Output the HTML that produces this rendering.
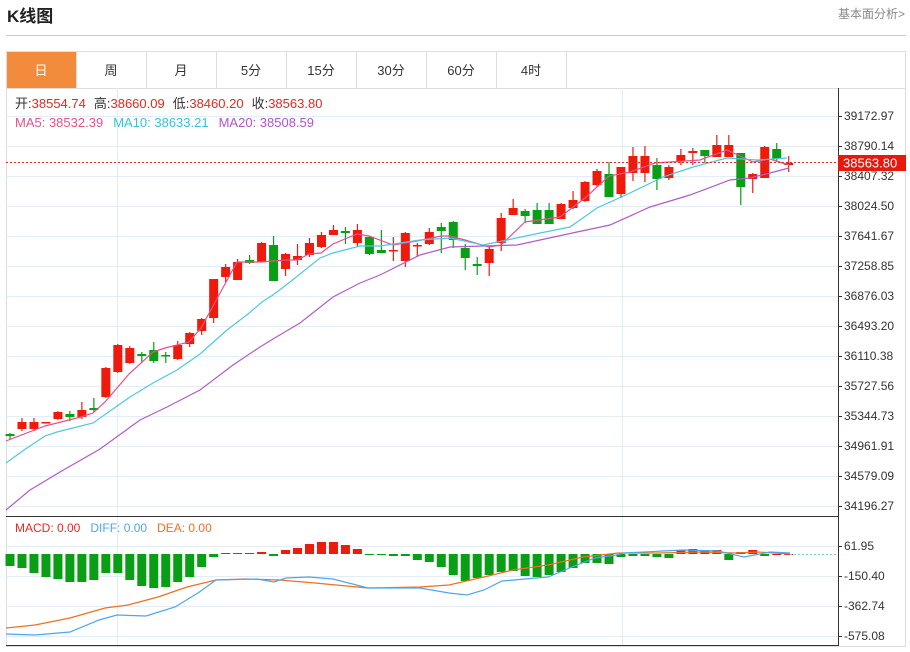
<!DOCTYPE html>
<html><head><meta charset="utf-8"><style>
body{margin:0;background:#fff;width:910px;height:647px;overflow:hidden;font-family:"Liberation Sans","Noto Sans CJK SC",sans-serif;}
</style></head><body>
<svg id="s" width="910" height="647" xmlns="http://www.w3.org/2000/svg" font-family="Liberation Sans, Noto Sans CJK SC, sans-serif">
<text x="7" y="22" font-size="17" font-weight="bold" fill="#222">K线图</text>
<text x="905" y="18" font-size="12" fill="#888" text-anchor="end">基本面分析&gt;</text>
<line x1="6" y1="35.5" x2="906" y2="35.5" stroke="#ccc"/>
<rect x="6.5" y="51.5" width="899" height="595" fill="none" stroke="#ddd"/>
<line x1="6" y1="88.5" x2="906" y2="88.5" stroke="#ddd"/>
<rect x="7" y="52" width="69" height="36" fill="#f28c3c"/>
<g font-size="13" text-anchor="middle" fill="#333">
<text x="41" y="75" fill="#fff">日</text><text x="111" y="75">周</text><text x="181" y="75">月</text><text x="251" y="75">5分</text><text x="321" y="75">15分</text><text x="391" y="75">30分</text><text x="461" y="75">60分</text><text x="531" y="75">4时</text>
</g>
<g stroke="#ddd"><line x1="76.5" y1="52" x2="76.5" y2="88"/><line x1="146.5" y1="52" x2="146.5" y2="88"/><line x1="216.5" y1="52" x2="216.5" y2="88"/><line x1="286.5" y1="52" x2="286.5" y2="88"/><line x1="356.5" y1="52" x2="356.5" y2="88"/><line x1="426.5" y1="52" x2="426.5" y2="88"/><line x1="496.5" y1="52" x2="496.5" y2="88"/><line x1="566.5" y1="52" x2="566.5" y2="88"/></g>
<g id="grid" stroke="#e3edf5"></g>
<g id="c"></g>
<line x1="838.5" y1="88" x2="838.5" y2="646" stroke="#333"/>
<line x1="6" y1="516.5" x2="838" y2="516.5" stroke="#333"/>
<line x1="6" y1="645.5" x2="838" y2="645.5" stroke="#333"/>
<g font-size="13">
<text x="15" y="108"><tspan fill="#333">开:</tspan><tspan fill="#e8281e">38554.74</tspan><tspan fill="#333" dx="8">高:</tspan><tspan fill="#e8281e">38660.09</tspan><tspan fill="#333" dx="8">低:</tspan><tspan fill="#e8281e">38460.20</tspan><tspan fill="#333" dx="8">收:</tspan><tspan fill="#e8281e">38563.80</tspan></text>
<text x="15" y="127"><tspan fill="#e8508a">MA5: 38532.39</tspan><tspan fill="#33c3dd" dx="10">MA10: 38633.21</tspan><tspan fill="#b055c8" dx="10">MA20: 38508.59</tspan></text>
<text x="15" y="532" font-size="12"><tspan fill="#e8281e">MACD: 0.00</tspan><tspan fill="#4da6f0" dx="10">DIFF: 0.00</tspan><tspan fill="#f07020" dx="10">DEA: 0.00</tspan></text>
</g>
<g id="ax" font-size="12" fill="#333"></g>
<line x1="6" y1="162.5" x2="838" y2="162.5" stroke="#e8281e" stroke-dasharray="2,2"/>
<rect x="838" y="155" width="68" height="16" fill="#e8180c"/>
<text x="843" y="167.5" font-size="13" fill="#fff">38563.80</text>
</svg>
<script>
var NS="http://www.w3.org/2000/svg",s=document.getElementById('c'),g=document.getElementById('grid'),ax=document.getElementById('ax');
function el(p,t,a){var e=document.createElementNS(NS,t);for(var k in a)e.setAttribute(k,a[k]);p.appendChild(e);return e;}
var lab=["39172.97","38790.14","38407.32","38024.50","37641.67","37258.85","36876.03","36493.20","36110.38","35727.56","35344.73","34961.91","34579.09","34196.27"];
lab.forEach(function(l,i){var y=116+i*30;el(g,'line',{x1:6,y1:y+.5,x2:838,y2:y+.5});el(ax,'line',{x1:838,y1:y+.5,x2:842,y2:y+.5,stroke:'#333'});var t=el(ax,'text',{x:844,y:y+4});t.textContent=l;});
[["61.95",546],["-150.40",576],["-362.74",606],["-575.08",636]].forEach(function(a){el(g,'line',{x1:6,y1:a[1]+.5,x2:838,y2:a[1]+.5});el(ax,'line',{x1:838,y1:a[1]+.5,x2:842,y2:a[1]+.5,stroke:'#333'});var t=el(ax,'text',{x:844,y:a[1]+4});t.textContent=a[0];});
[117.5,622.5].forEach(function(x){el(g,'line',{x1:x,y1:88,x2:x,y2:646});});
var K=[[434,436,433,439,'g'],[422,429,418,431,'r'],[422,429,418,431,'r'],[422,423,422,423,'r'],[412,419,411,420,'r'],[414,417,411,421,'g'],[410,417,402,419,'r'],[408,410,398,412,'g'],[368,397,367,398,'r'],[345,372,344,373,'r'],[348,363,346,364,'r'],[354,356,352,363,'g'],[350,361,342,363,'g'],[355,356,352,363,'g'],[345,359,341,360,'r'],[333,344,332,347,'r'],[319,331,318,335,'r'],[279,318,279,323,'r'],[267,277,264,282,'r'],[262,280,259,280,'r'],[260,263,255,264,'g'],[243,262,242,262,'r'],[245,281,236,281,'g'],[254,269,253,276,'r'],[256,260,244,265,'r'],[243,255,238,257,'r'],[235,247,232,248,'r'],[230,235,225,235,'r'],[231,233,227,244,'g'],[230,243,224,247,'r'],[237,254,236,255,'g'],[250,253,230,253,'g'],[250,251,237,261,'r'],[233,261,232,267,'r'],[245,246,243,257,'r'],[232,244,228,245,'r'],[227,231,223,253,'g'],[222,240,221,248,'g'],[248,258,244,270,'g'],[264,266,257,275,'g'],[249,263,246,276,'r'],[218,243,213,251,'r'],[208,215,199,215,'r'],[211,216,209,223,'g'],[210,224,203,224,'g'],[210,224,203,224,'g'],[204,219,203,219,'r'],[200,208,191,209,'r'],[182,201,181,202,'r'],[171,185,169,187,'r'],[174,197,162,197,'g'],[167,194,167,198,'r'],[156,173,147,181,'r'],[156,173,146,182,'r'],[165,179,158,190,'g'],[167,178,165,180,'r'],[155,161,149,165,'r'],[151,153,148,165,'r'],[150,156,150,163,'g'],[145,157,135,157,'r'],[145,157,135,157,'r'],[153,187,153,205,'g'],[174,179,173,193,'r'],[147,178,146,178,'r'],[149,159,143,162,'g'],[163,165,156,172,'r']];
var M=[566,568,573,577,579,582,582,580,573,573,580,586,588,587,582,577,567,557,553,553,553,552,556,550,548,544,542,542,545,549,555,555,556,556,560,562,567,575,581,578,575,572,571,576,577,575,572,568,563,563,564,557,556,556,557,558,550,549,550,550,560,552,550,556,555,555];
var Mc=['g','g','g','g','g','g','g','g','g','g','g','g','g','g','g','g','g','g','r','r','r','r','g','r','r','r','r','r','r','r','g','g','g','g','g','g','g','g','g','g','g','g','g','g','g','g','g','g','g','g','g','g','g','g','g','g','r','r','r','r','g','r','r','g','r','r'];
var RED='#ee1a0c',GRN='#0a9e16';
K.forEach(function(k,i){var x=10+i*11.98,c=k[4]=='r'?RED:GRN;
el(s,'line',{x1:x,y1:k[2],x2:x,y2:k[3],stroke:c,'stroke-width':1.2});
el(s,'rect',{x:x-4.5,y:k[0],width:9,height:Math.max(1.5,k[1]-k[0]),fill:c});
var m=M[i],z=554,mc=Mc[i]=='r'?RED:GRN;
el(s,'rect',{x:x-4.5,y:Math.min(m,z),width:9,height:Math.max(1,Math.abs(m-z)),fill:mc});});
el(s,'line',{x1:790,y1:554.5,x2:838,y2:554.5,stroke:'#7cc8ee','stroke-dasharray':'2,2'});
function pl(pts,c){el(s,'polyline',{points:pts,fill:'none',stroke:c,'stroke-width':1.2});}
pl("6,441 45,426 81,417 93,413 105,402 129,374 153,352 165,348 189,342 201,328 213,306 237,262 261,262 285,260 297,260 309,254 321,253 333,244 357,234 369,236 393,245 417,241 441,236 450,236 465,240 489,247 501,245 525,222 560,217 585,198 609,176 630,172 655,163 700,160 727,150 753,162 770,159 789,165",'#e8508a');
pl("6,463 24,450 45,436 57,432 93,423 130,397 153,383 177,370 200,354 227,330 248,314 262,302 273,295 290,282 320,258 333,253 360,246 380,246 400,243 420,240 450,238 483,245 507,240 540,233 570,227 597,208 630,193 663,177 693,167 727,158 757,160 787,158",'#4fc8e0');
pl("6,510 30,490 60,472 100,449 140,420 167,407 200,390 233,365 260,347 273,339 300,323 333,297 360,283 380,275 420,255 450,247 517,245 577,232 610,225 650,207 690,195 730,180 750,178 770,173 789,168",'#b05cc8');
pl("6,628 35,625 70,618 105,608 128,605 158,597 187,587 216,580 245,579 280,580 315,583 368,588 420,587 449,585 484,577 513,570 548,565 583,557 618,553 659,553 700,552 735,553 758,552 790,554",'#f07020');
pl("6,634 35,635 70,632 99,620 117,615 146,616 175,607 198,593 216,580 257,579 274,582 286,578 309,577 333,579 368,588 420,588 449,593 467,595 484,590 502,581 525,579 548,577 572,567 595,558 616,555 624,553 683,550 718,551 744,557 770,552 790,553",'#4da6f0');
</script>
</body></html>
